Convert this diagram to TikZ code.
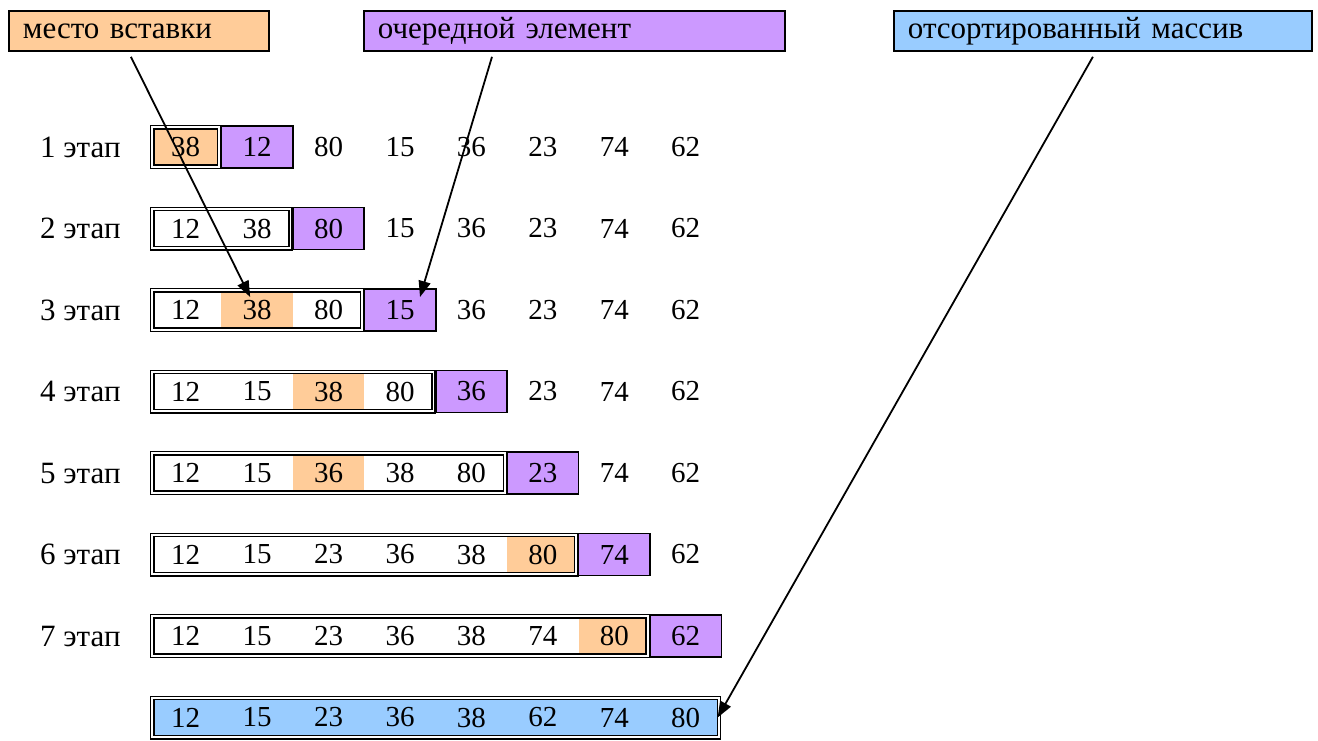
\documentclass[tikz,border=0pt]{standalone}
\usepackage{fontspec}
\setmainfont{Liberation Serif}[Script=Cyrillic]
\usepackage{tikz}
\usetikzlibrary{arrows.meta}
\definecolor{orangec}{HTML}{FFCC99}
\definecolor{purplec}{HTML}{CC99FF}
\definecolor{bluec}{HTML}{99CCFF}
\begin{document}
\begin{tikzpicture}[x=1pt,y=-1pt,
  font=\fontsize{29pt}{32pt}\selectfont,
  words/.style={font=\fontsize{31pt}{34pt}\selectfont},
  cell/.style={minimum width=71.43pt,minimum height=44pt,inner sep=0pt},
  kind0/.style={},
  kind1/.style={fill=orangec,minimum height=36pt},
  kind2/.style={draw,line width=1.8pt,fill=purplec,minimum height=42pt},
  sortbox/.style={draw,line width=1.4pt,double=white,double distance=1.8pt},
  lab/.style={words,draw,line width=1.8pt,anchor=north west,minimum height=40pt,inner xsep=14pt,align=left},
  pointer/.style={line width=1.8pt,-{Triangle[length=16pt,width=12pt]}}]
\useasboundingbox (0,0) rectangle (1318,740);
% подписи
\node[lab,fill=orangec,text width=232pt] (mesto) at (8,10) {место вставки};
\node[lab,fill=purplec,text width=393pt] (ocher) at (363,10) {очередной элемент};
\node[lab,fill=bluec,text width=390pt] (sorted) at (893,10) {отсортированный массив};
% этапы
\foreach \r/\vals/\k/\o in {
  1/{38,12,80,15,36,23,74,62}/1/1,
  2/{12,38,80,15,36,23,74,62}/2/0,
  3/{12,38,80,15,36,23,74,62}/3/2,
  4/{12,15,38,80,36,23,74,62}/4/3,
  5/{12,15,36,38,80,23,74,62}/5/3,
  6/{12,15,23,36,38,80,74,62}/6/6,
  7/{12,15,23,36,38,74,80,62}/7/7,
  8/{12,15,23,36,38,62,74,80}/8/0} {
  \pgfmathsetmacro\yc{147+81.5*(\r-1)}
  \ifnum\r<8 \node[words,anchor=west,inner sep=0pt] (st\r) at (40,\yc) {\r~этап};\fi
  \ifnum\r=8 \fill[bluec] (152,\yc-18) rectangle (719,\yc+18);\fi
  \foreach \v [count=\i] in \vals {
    \ifnum\i=\o \def\t{1}\else\ifnum\i=\numexpr\k+1\relax \def\t{2}\else\def\t{0}\fi\fi
    \node[cell,kind\t] (c\r-\i) at ({150+71.43*(\i-0.5)},\yc) {\v};
  }
  \draw[sortbox] (152.3,\yc-19.7) rectangle ({150+71.43*\k-2.3},\yc+19.7);
}
% стрелки
\draw[pointer] ([xshift=-8pt,yshift=-5pt]mesto.south) -- ([xshift=-7pt,yshift=13pt]c3-2.center);
\draw[pointer] ([xshift=129pt,yshift=-5pt]ocher.south west) -- ([xshift=20pt,yshift=13pt]c3-4.center);
\draw[pointer] ([xshift=-10pt,yshift=-5pt]sorted.south) -- ([xshift=-4pt]c8-8.east);
\end{tikzpicture}
\end{document}
